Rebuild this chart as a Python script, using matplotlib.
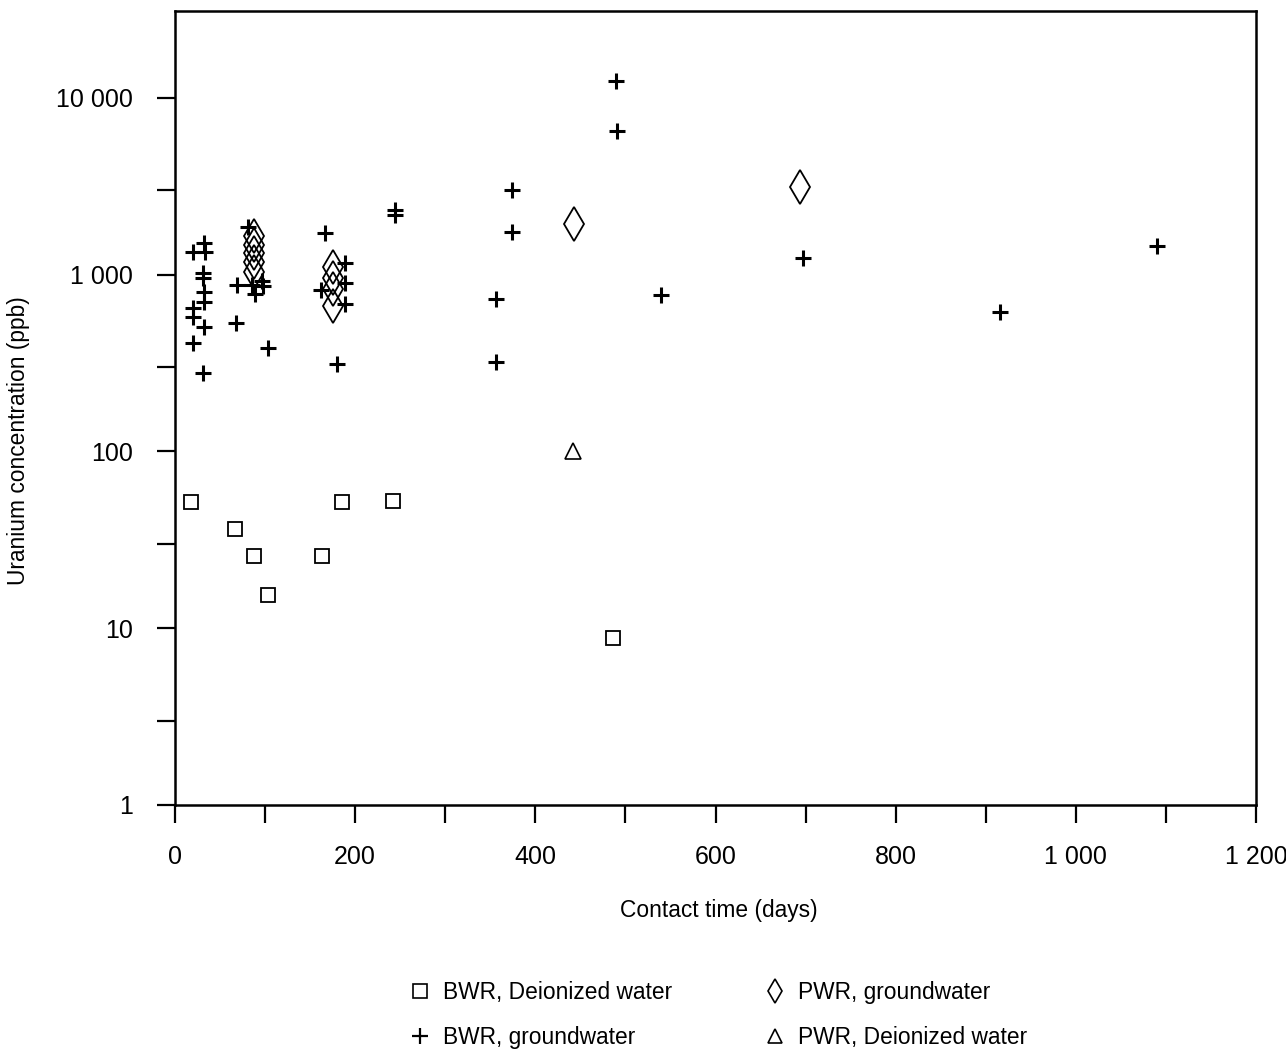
import numpy as np
import matplotlib
matplotlib.use("Agg")
import matplotlib.pyplot as plt
from matplotlib.lines import Line2D
from matplotlib.ticker import NullFormatter

plt.rcParams['font.family'] = ['Liberation Sans', 'DejaVu Sans']

# BWR fuel, deionized water
bwr_di_days = [17.8, 66.6, 88.0, 102.9, 162.9, 185.7, 241.7, 486.2]
bwr_di_ppb = [51.8, 36.3, 25.6, 15.4, 25.6, 51.8, 52.4, 8.8]

# BWR fuel, groundwater
bwr_gw_days = [19.6, 32.5, 33.3, 30.7, 30.7, 32.2, 32.2, 19.6, 19.6, 32.2, 19.6, 31.4,
               80.7, 68.5, 85.1, 96.9, 97.7, 88.8, 67.7, 102.9,
               166.5, 188.7, 188.7, 162.1, 188.7, 179.5,
               244.2, 244.2, 374.4, 373.8, 356.0, 356.3, 489.6, 490.3,
               539.5, 697.2, 915.9, 1090.0]
bwr_gw_ppb = [1340, 1507, 1350, 1019, 955, 802, 704, 646, 579, 508, 413, 279,
              1855, 875, 875, 922, 864, 775, 531, 384,
              1730, 1161, 895, 820, 683, 313,
              2310, 2163, 3016, 1746, 726, 320, 12530, 6531,
              768, 1244, 615, 1455]

# PWR fuel, groundwater
pwr_gw_days = [88.0, 88.0, 88.0, 88.0, 88.0, 175.7, 175.7, 175.7, 175.7, 443.0, 693.8]
pwr_gw_ppb = [1650, 1470, 1330, 1180, 1040, 1106, 959, 830, 666, 1937, 3137]

# PWR fuel, deionized water
pwr_di_days = [441.8]
pwr_di_ppb = [100]

x_ticks = [0, 200, 400, 600, 800, 1000, 1200]
x_tick_labels = ['0', '200', '400', '600', '800', '1 000', '1 200']
y_ticks = [1, 10, 100, 1000, 10000]
y_tick_labels = ['1', '10', '100', '1 000', '10 000']

fig = plt.figure(figsize=(12.86, 10.5), dpi=100)
ax = fig.add_axes([175 / 1286, 1 - 805 / 1050, (1256 - 175) / 1286, (805 - 11) / 1050])

ax.plot(bwr_di_days, bwr_di_ppb, linestyle='none', marker='s', ms=10, mew=1.3,
        mfc='none', mec='black')
ax.plot(bwr_gw_days, bwr_gw_ppb, linestyle='none', marker='+', ms=11, mew=2.2,
        color='black')
ax.plot(pwr_gw_days, pwr_gw_ppb, linestyle='none', marker='d', ms=17, mew=1.3,
        mfc='none', mec='black')
ax.plot(pwr_di_days, pwr_di_ppb, linestyle='none', marker='^', ms=11, mew=1.2,
        mfc='none', mec='black')

ax.set_yscale('log')
ax.set_xlim(0, 1200)
ax.set_ylim(1, 31000)

ax.set_xticks(x_ticks, labels=x_tick_labels)
ax.set_xticks(np.arange(100, 1200, 200), minor=True)
ax.set_yticks(y_ticks, labels=y_tick_labels)
ax.set_yticks([3, 30, 300, 3000], minor=True)
ax.yaxis.set_minor_formatter(NullFormatter())

ax.tick_params(axis='both', which='both', direction='out', length=13, width=1.6,
               labelsize=18)
ax.tick_params(axis='x', which='both', pad=16)
ax.tick_params(axis='y', which='both', pad=17)
for side in ax.spines.values():
    side.set_linewidth(1.8)

fig.text(719 / 1286, 1 - 911 / 1050, 'Contact time (days)', ha='center', va='center',
         fontsize=16.4)
fig.text(19 / 1286, 1 - 441 / 1050, 'Uranium concentration (ppb)', ha='center',
         va='center', rotation=90, fontsize=16.4)

handles = [
    Line2D([], [], linestyle='none', marker='s', ms=10, mew=1.2, mfc='none', mec='black'),
    Line2D([], [], linestyle='none', marker='+', ms=11, mew=1.6, color='black'),
    Line2D([], [], linestyle='none', marker='d', ms=12, mew=1.2, mfc='none', mec='black'),
    Line2D([], [], linestyle='none', marker='^', ms=10, mew=1.2, mfc='none', mec='black'),
]
labels = ['BWR, Deionized water', 'BWR, groundwater', 'PWR, groundwater', 'PWR, Deionized water']
fig.legend(handles, labels, ncol=2, loc='upper left', bbox_to_anchor=(409 / 1286, 1 - 981 / 1050),
           frameon=False, fontsize=16.4, handlelength=1.0, handletextpad=0.5,
           columnspacing=4.0, labelspacing=0.95, borderpad=0, borderaxespad=0)

fig.savefig('out.png', dpi=100)
